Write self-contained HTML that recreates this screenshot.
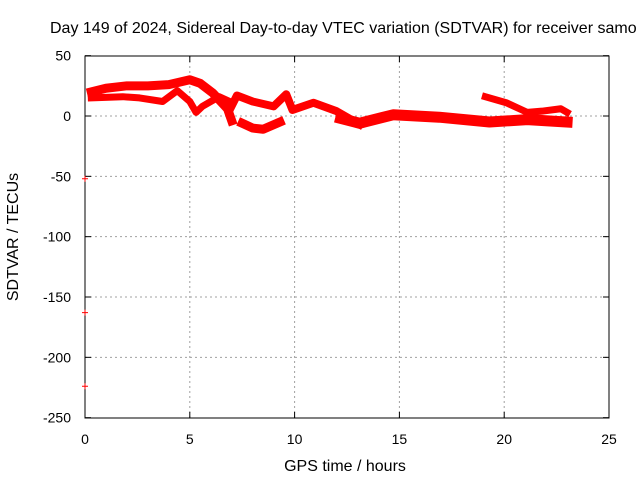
<!DOCTYPE html>
<html><head><meta charset="utf-8"><style>
body{margin:0;background:#fff}
svg{display:block;font-family:"Liberation Sans",sans-serif}
</style></head><body>
<svg id="c" width="640" height="480">
<text x="50" y="33" font-size="16">Day 149 of 2024, Sidereal Day-to-day VTEC variation (SDTVAR) for receiver samo</text>
<g id="grid"></g><g id="axes"></g><g id="marks"></g>
<text x="345" y="471" font-size="16" text-anchor="middle">GPS time / hours</text>
<text transform="translate(18,237) rotate(-90)" font-size="16" text-anchor="middle">SDTVAR / TECUs</text>
</svg>
<script>
const xTicks=[0,5,10,15,20,25];
const yTicks=[50,0,-50,-100,-150,-200,-250];
const t1x=[0.3,1,2,3,4,5,5.5,6.1,6.8,7.0];
const t1y=[20,23,25,25,26,30,27,19,6,-4];
const t2x=[0.3,1.8,2.6,3.7,4.4,5.0,5.3,5.6,6.4,6.9];
const t2y=[15,16,15,12,21,12,3,8,16,12];
const t3x=[6.9,7.25,8.0,9.0,9.6,9.9,10.9,12.0,12.5,13.1];
const t3y=[5,17,12,8,18,5,11,4,-1,-7];
const t4x=[7.5,8.0,8.5,9.3];
const t4y=[-6,-10,-11,-5];
const t5x=[12.2,13.1,14.7,16.9,19.3,21.1,23.0];
const t5y=[-2,-6,1,-1,-5,-3,-5];
const t6x=[19.1,20.1,21.1,21.8,22.7,23.0];
const t6y=[16,11,3,4,6,3];
const outX=[0,0,0];
const outY=[-52,-163,-224];
const tracksX=[t1x,t2x,t3x,t4x,t5x,t6x];
const tracksY=[t1y,t2y,t3y,t4y,t5y,t6y];
const widths=[9,7,8,9,11,7];
const X=h=>85+h*(524/25);
const Y=v=>116-v*(362/300);
const NS='http://www.w3.org/2000/svg';
function mk(tag,attrs,parent){const e=document.createElementNS(NS,tag);for(const k in attrs)e.setAttribute(k,attrs[k]);parent.appendChild(e);return e;}
const grid=document.getElementById('grid'),axes=document.getElementById('axes'),marks=document.getElementById('marks');
xTicks.forEach(t=>{
 if(t>0&&t<25){const l=mk('line',{x1:X(t),x2:X(t),y1:56,y2:418,stroke:'#a0a0a0','stroke-dasharray':'2,3'},grid);
 
 }
 const tx=mk('text',{x:X(t),y:444,'font-size':14,'text-anchor':'middle'},axes);tx.textContent=t;
 
 
 mk('line',{x1:X(t),x2:X(t),y1:418,y2:412,stroke:'#000'},axes);
 mk('line',{x1:X(t),x2:X(t),y1:56,y2:62,stroke:'#000'},axes);
});
yTicks.forEach(t=>{
 if(t<50&&t>-250){const l=mk('line',{x1:85,x2:609,y1:Y(t),y2:Y(t),stroke:'#a0a0a0','stroke-dasharray':'2,3'},grid);
 
 }
 const tx=mk('text',{x:71,y:Y(t)+5,'font-size':14,'text-anchor':'end'},axes);tx.textContent=t;
 
 
 mk('line',{x1:85,x2:91,y1:Y(t),y2:Y(t),stroke:'#000'},axes);
 mk('line',{x1:609,x2:603,y1:Y(t),y2:Y(t),stroke:'#000'},axes);
});
const fr=mk('rect',{x:85,y:56,width:524,height:362,fill:'none',stroke:'#000'},axes);


tracksX.forEach((xs,i)=>{
 const pts=xs.map((h,j)=>X(h)+','+Y(tracksY[i][j])).join(' ');
 const p=mk('polyline',{points:pts,fill:'none',stroke:'#ff0000','stroke-width':widths[i],'stroke-linejoin':'round','stroke-linecap':'square'},marks);
 
 
});
outX.forEach((h,i)=>{
 const x=X(h),y=Y(outY[i]);
 const p=mk('path',{d:`M${x-3},${y}H${x+3}M${x},${y-3}V${y+3}`,stroke:'#ff0000','stroke-width':1},marks);
 
 
});
</script>
</body></html>
